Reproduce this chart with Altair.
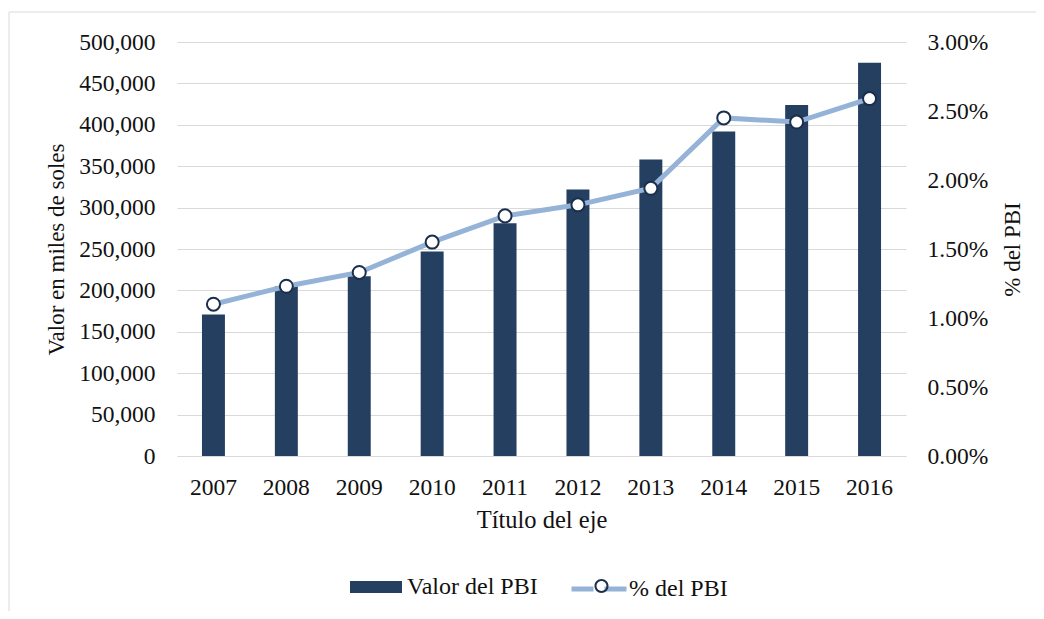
import altair as alt
import pandas as pd

# ---- data ----
years = ["2007", "2008", "2009", "2010", "2011", "2012", "2013", "2014", "2015", "2016"]
valor_pbi = [171000, 205000, 217000, 247000, 281000, 322000, 358000, 392000, 424000, 475000]
pct_pbi = [1.10, 1.23, 1.33, 1.55, 1.74, 1.82, 1.94, 2.45, 2.42, 2.59]  # in percent
left_ticks = [0, 50000, 100000, 150000, 200000, 250000, 300000, 350000, 400000, 450000, 500000]
right_ticks = [0.0, 0.005, 0.01, 0.015, 0.02, 0.025, 0.03]
bar_label = "Valor del PBI"
line_label = "% del PBI"
marker_key = "marker"

df = pd.DataFrame({
    "year": years,
    "valor": valor_pbi,
    "pct": [p / 100 for p in pct_pbi],
    "s_bar": bar_label,
    "s_line": line_label,
    "s_pt": marker_key,
})

FONT = "Liberation Serif"
TXT = "#111111"
NAVY = "#253F61"
LIGHT = "#95B3D7"
MARK_STROKE = "#1B2E4B"
GRID = "#D9D9D9"
LBL = 23.5

W, H = 729, 414

# ring-shaped legend marker (outer r=1, inner r=0.71, opposite winding)
RING = ("M1,0A1,1 0 1,0 -1,0A1,1 0 1,0 1,0Z"
        "M0.71,0A0.71,0.71 0 1,1 -0.71,0A0.71,0.71 0 1,1 0.71,0Z")
LINE_WITH_GAP = "M-1,0H-0.2M0.2,0H1"

x_enc = alt.X(
    "year:O",
    title="Título del eje",
    scale=alt.Scale(paddingInner=0, paddingOuter=0),
    axis=alt.Axis(labelAngle=0, ticks=False, domainColor=GRID, domainWidth=1,
                  labelPadding=19, titlePadding=10, titleFontSize=24.5),
)

right_axis = alt.Axis(
    orient="right", format=".2%", values=right_ticks, grid=False, ticks=False,
    domain=False, labelPadding=21, title=line_label, titleAngle=270,
    titleBaseline="middle", titleX=106, titleY=H / 2, titleFontSize=23,
)
right_scale = alt.Scale(domain=[0, 0.03], nice=False, zero=True)

bars = alt.Chart(df).mark_bar(width=alt.RelativeBandSize(0.315)).encode(
    x=x_enc,
    y=alt.Y(
        "valor:Q",
        scale=alt.Scale(domain=[0, 500000], nice=False),
        axis=alt.Axis(values=left_ticks, format=",.0f", grid=True, gridColor=GRID,
                      ticks=False, domain=False, labelPadding=22,
                      title="Valor en miles de soles", titleAngle=270,
                      titleBaseline="middle", titleX=-121, titleY=H / 2,
                      titleFontSize=23),
    ),
    fill=alt.Fill(
        "s_bar:N",
        scale=alt.Scale(domain=[bar_label], range=[NAVY]),
        legend=alt.Legend(orient="none", legendX=173, legendY=519, title=None,
                          symbolType="M-1,-0.23H1V0.23H-1Z", symbolSize=2704,
                          symbolStrokeWidth=0, labelOffset=5),
    ),
)

line = alt.Chart(df).mark_line(strokeWidth=5).encode(
    x=x_enc,
    y=alt.Y("pct:Q", scale=right_scale, axis=right_axis),
    stroke=alt.Stroke(
        "s_line:N",
        scale=alt.Scale(domain=[line_label], range=[LIGHT]),
        legend=alt.Legend(orient="none", legendX=392, legendY=517, title=None,
                          symbolType=LINE_WITH_GAP, symbolSize=3025,
                          symbolStrokeWidth=5, labelOffset=0),
    ),
)

points = alt.Chart(df).mark_point(
    filled=True, fill="white", stroke=MARK_STROKE, strokeWidth=2, size=170, opacity=1
).encode(
    x=x_enc,
    y=alt.Y("pct:Q", scale=right_scale, axis=right_axis),
)

# invisible layer that only provides the marker symbol of the legend
marker_legend = alt.Chart(df).mark_point(
    filled=True, color=MARK_STROKE, opacity=0
).encode(
    x=x_enc,
    y=alt.Y("pct:Q", scale=right_scale, axis=right_axis),
    shape=alt.Shape(
        "s_pt:N",
        scale=alt.Scale(domain=[marker_key], range=[RING]),
        legend=alt.Legend(orient="none", legendX=412.5, legendY=532, title=None,
                          symbolSize=196, symbolOpacity=1, symbolStrokeWidth=0,
                          labelExpr="''", labelOffset=0, zindex=2),
    ),
)

frame = pd.DataFrame({"k": [0]})
border_top = alt.Chart(frame).mark_rule(color=GRID, strokeWidth=1).encode(
    x=alt.value(-168), x2=alt.value(W + 200), y=alt.value(-30)
)
border_left = alt.Chart(frame).mark_rule(color=GRID, strokeWidth=1).encode(
    x=alt.value(-168), y=alt.value(-30), y2=alt.value(H + 200)
)

chart = (
    alt.layer(border_top, border_left, bars, alt.layer(line, points, marker_legend))
    .resolve_scale(y="independent")
    .properties(
        width=W,
        height=H,
        padding={"left": 169, "top": 34, "right": 130, "bottom": 155},
        autosize=alt.AutoSizeParams(type="none"),
    )
    .configure_view(stroke=None)
    .configure_axis(
        labelFont=FONT, labelFontSize=LBL, labelColor=TXT,
        titleFont=FONT, titleFontSize=24, titleFontWeight="normal", titleColor=TXT,
    )
    .configure_legend(
        labelFont=FONT, labelFontSize=24, labelColor=TXT, padding=0,
    )
)

chart.save("out.html", embed_options={"renderer": "svg", "actions": False})
